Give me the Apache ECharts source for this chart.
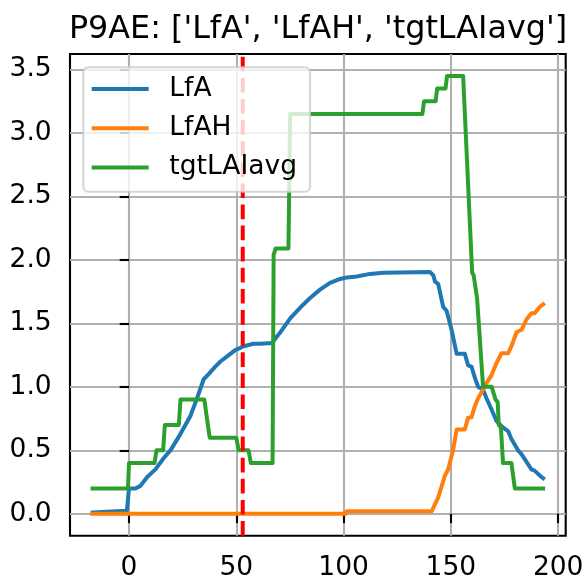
<!DOCTYPE html>
<html><head><meta charset="utf-8">
<script src="https://cdn.jsdelivr.net/npm/echarts@6/dist/echarts.min.js"></script>
<style>html,body{margin:0;padding:0;background:#fff}#c{width:587px;height:585px}</style>
</head><body><div id="c"></div>
<script>
const titleText = "P9AE: ['LfA', 'LfAH', 'tgtLAIavg']";
const seriesNames = ['LfA', 'LfAH', 'tgtLAIavg'];
const seriesColors = ['#1f77b4', '#ff7f0e', '#2ca02c'];
const xTicks = [0, 50, 100, 150, 200];
const yTicks = [0, 0.5, 1, 1.5, 2, 2.5, 3, 3.5];
const markerX = 53;

const lfaX = [-17,-1,0,3,5.3,8.5,12.3,16.2,19.3,24,28.6,31.7,34.8,37.1,40.2,42.6,45.7,49.5,53.4,58,61.2,66.6,67.4,70.5,75.1,79.8,84.4,89,93.7,98.4,100.7,101.5,106.1,112.3,118.5,140.2,141.8,142.6,144.1,146.4,148,150.3,152.7,156.5,158,159.6,161.2,162.7,165,166.6,169,171.3,173.6,176.7,178.2,181.3,182.9,186,187.5,189,192.2,193];
const lfaY = [0.01,0.025,0.2,0.2,0.22,0.29,0.35,0.44,0.5,0.63,0.77,0.91,1.06,1.1,1.16,1.2,1.24,1.29,1.32,1.34,1.34,1.345,1.35,1.43,1.54,1.625,1.7,1.766,1.82,1.85,1.86,1.845,1.87,1.89,1.9,1.905,1.88,1.83,1.81,1.63,1.6,1.45,1.26,1.26,1.17,1.16,1.07,1.0,0.98,0.91,0.82,0.73,0.69,0.65,0.59,0.5,0.47,0.39,0.35,0.34,0.29,0.28];

const lfahX = [-17,101,101.5,141,143.3,144.1,147.2,148.7,151,152.7,156.5,158,159.6,161.2,162.7,165,166.6,169,171.3,173.6,176.7,178.2,180.6,182.9,185.2,187.5,189,191.4,193];
const lfahY = [0,0,0.02,0.02,0.1,0.13,0.3,0.35,0.5,0.665,0.665,0.757,0.76,0.85,0.91,0.98,1.03,1.095,1.19,1.265,1.265,1.32,1.43,1.45,1.53,1.58,1.58,1.63,1.65];

const tgtX = [-17,-0.5,0,11.9,12.8,15.9,16.7,23.2,24,35.1,36,36.7,37.6,50,51.1,55.7,56.8,66.9,67.4,68.3,74.3,75.1,136.7,137.5,142.9,143.6,147.5,148.2,155.7,159.9,160.6,162.2,165,169,170.8,171.8,172.3,173.3,174.3,178.2,179.8,193];
const tgtY = [0.2,0.2,0.4,0.4,0.5,0.5,0.7,0.7,0.9,0.9,0.79,0.78,0.6,0.6,0.5,0.5,0.4,0.4,2.04,2.09,2.09,3.15,3.15,3.25,3.25,3.35,3.35,3.45,3.45,1.9,1.88,1.7,1.0,1.0,0.9,0.88,0.7,0.68,0.4,0.4,0.2,0.2];

const xMin = -27.5, xMax = 203.5, yMin = -0.1725, yMax = 3.6225;
const FONT = 'DejaVu Sans';
const zip = (xs, ys) => xs.map((x, i) => [x, ys[i]]);
const allData = [zip(lfaX, lfaY), zip(lfahX, lfahY), zip(tgtX, tgtY)];

const chart = echarts.init(document.getElementById('c'), null, {renderer: 'canvas'});
const series = seriesNames.map((n, i) => ({
  name: n, type: 'line', data: allData[i], showSymbol: false, symbol: 'none',
  color: seriesColors[i], z: 2,
  lineStyle: {width: 4, color: seriesColors[i], cap: 'square', join: 'round'}
}));
series.push({
  name: 'marker', type: 'line', symbol: 'none', showSymbol: false, z: 3,
  data: [[markerX, yMin], [markerX, yMax]],
  lineStyle: {width: 4, color: '#ff0000', type: [14.7, 6.4]}
});

chart.setOption({
  animation: false,
  title: {
    text: titleText, left: 313, top: 9, textAlign: 'center',
    textStyle: {fontFamily: FONT, fontSize: 31.8, fontWeight: 'normal', color: '#000'}
  },
  grid: {left: 70, right: 21.3, top: 54, bottom: 49.3, show: true, borderColor: '#000', borderWidth: 2.1, backgroundColor: 'transparent'},
  legend: {
    data: seriesNames, orient: 'vertical', left: 83.3, top: 67.3,
    padding: [6.7, 13, 9.3, 8.4], itemGap: 9.2, itemWidth: 57, itemHeight: 4, icon: 'rect',
    backgroundColor: 'rgba(255,255,255,0.8)', borderColor: 'rgba(204,204,204,0.8)', borderWidth: 2.1, borderRadius: 5,
    textStyle: {fontFamily: FONT, fontSize: 26.5, color: '#000', lineHeight: 30, padding: [0, 0, 0, 15.6]}
  },
  xAxis: {
    type: 'value', min: xMin, max: xMax, splitNumber: 5,
    axisLine: {show: false},
    axisTick: {show: true, length: 9.3, lineStyle: {color: '#000', width: 2.1}, customValues: xTicks},
    axisLabel: {fontFamily: FONT, fontSize: 26.5, color: '#000', margin: 19, customValues: xTicks, formatter: v => String(v)},
    splitLine: {show: true, lineStyle: {color: '#b0b0b0', width: 2.1}}
  },
  yAxis: {
    type: 'value', min: yMin, max: yMax, splitNumber: 8,
    axisLine: {show: false},
    axisTick: {show: true, length: 9.3, lineStyle: {color: '#000', width: 2.1}, customValues: yTicks},
    axisLabel: {fontFamily: FONT, fontSize: 26.5, color: '#000', margin: 18.3, customValues: yTicks, formatter: v => v.toFixed(1)},
    splitLine: {show: true, lineStyle: {color: '#b0b0b0', width: 2.1}}
  },
  series: series
});
</script></body></html>
